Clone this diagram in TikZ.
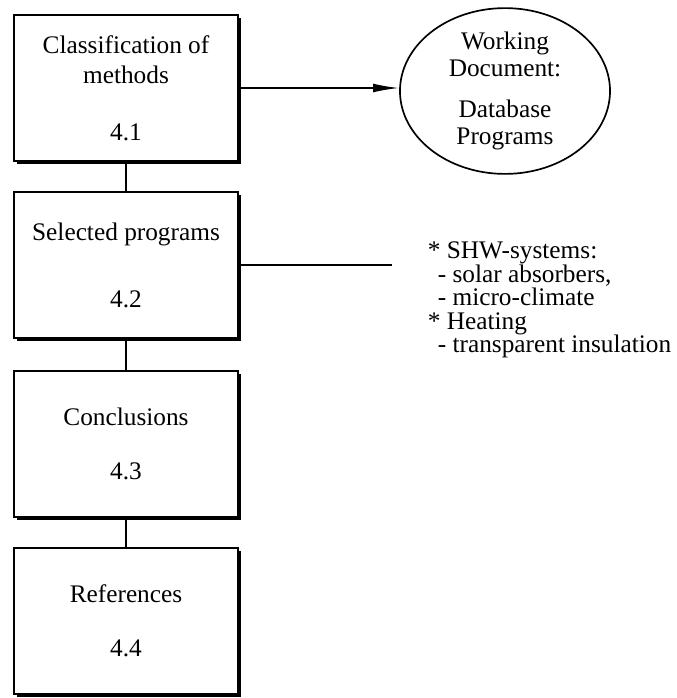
\documentclass[tikz,border=0pt]{standalone}
\usepackage{fontspec}
\setmainfont{Liberation Serif}
\usetikzlibrary{arrows.meta,shapes.geometric,shadows}
\begin{document}
\begin{tikzpicture}[x=0.025cm,y=-0.025cm,line width=1.2pt,
  every node/.style={font=\fontsize{18}{21.5}\selectfont},
  box/.style={draw,fill=white,minimum width=5.6cm,minimum height=3.65cm,align=center,
    drop shadow={shadow xshift=0.08cm,shadow yshift=-0.08cm,opacity=1,fill=black}}]
\useasboundingbox (0,0) rectangle (677,698);
\foreach \k/\y/\t in {1/88/{Classification of\\methods\\[19pt]4.1},
                      2/265/{Selected programs\\[26pt]4.2},
                      3/444/{Conclusions\\[17pt]4.3},
                      4/621/{References\\[17pt]4.4}}
   \node[box] (b\k) at (126,\y) {\t};
\foreach \k/\n in {1/2,2/3,3/4}
   \draw (b\k) -- (b\n);
\node[draw,ellipse,minimum width=5.25cm,minimum height=3.78cm,inner sep=0pt,align=center,
  font=\fontsize{18}{19}\selectfont] (wd) at (505,91) {Working\\Document:\\[10pt]Database\\Programs};
\draw[-{Latex[length=0.65cm,width=0.22cm]}] (b1.east) -- (b1.east -| wd.west);
\node[anchor=north west,inner sep=0pt,align=left,font=\fontsize{18}{16.7}\selectfont] (note) at (427,241)
  {* SHW-systems:\\\hspace*{0.25cm}- solar absorbers,\\\hspace*{0.25cm}- micro-climate\\
   * Heating\\\hspace*{0.25cm}- transparent insulation};
\coordinate (nt) at (392,265);
\draw (b2.east) -- (nt);
\end{tikzpicture}
\end{document}
